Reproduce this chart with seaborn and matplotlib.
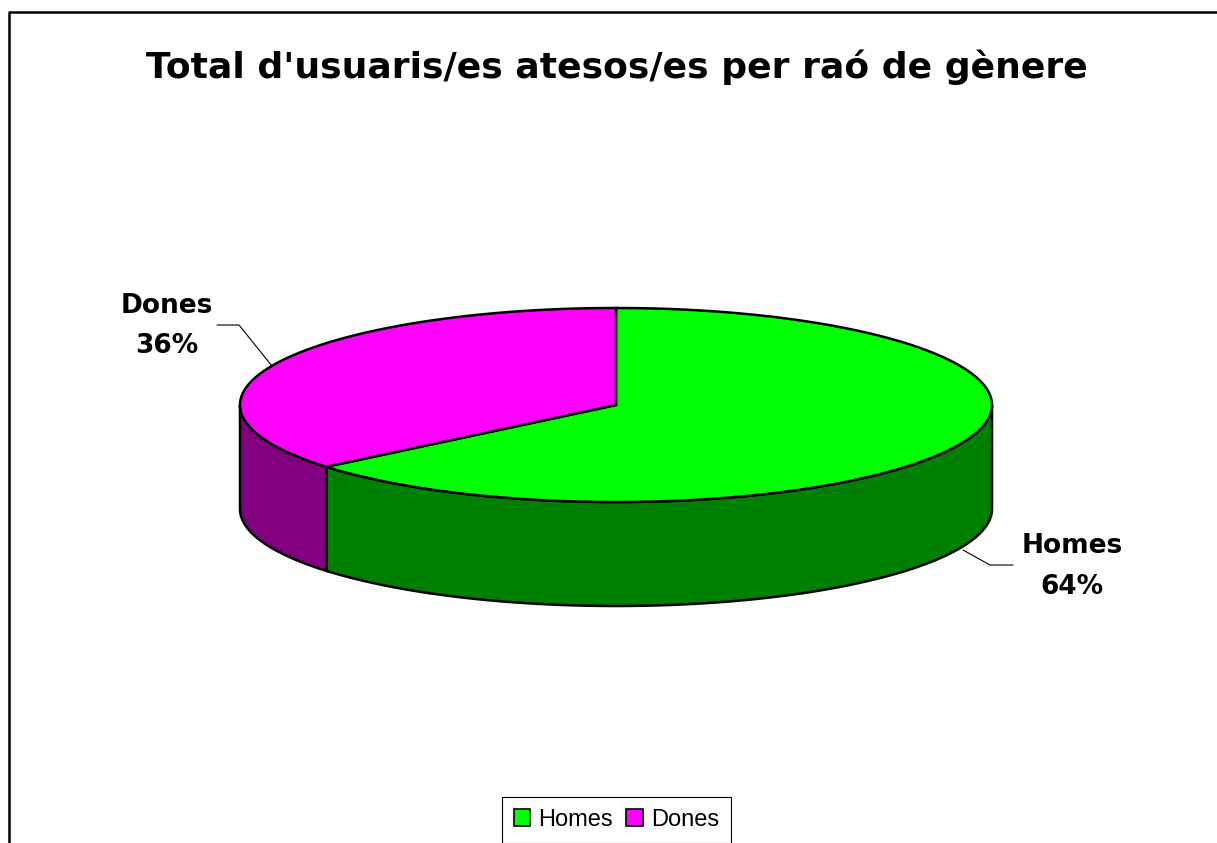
import numpy as np
import seaborn as sns
import matplotlib.pyplot as plt
from matplotlib.patches import Polygon, Patch

# Data
labels = ['Homes', 'Dones']
values = [64, 36]
top_colors = ['#00FF00', '#FF00FF']
side_colors = ['#008000', '#800080']
title = "Total d'usuaris/es atesos/es per raó de gènere"

sns.set_theme(style='white')
plt.rcParams['font.family'] = ['DejaVu Sans']
plt.rcParams['text.color'] = 'black'

fig = plt.figure(figsize=(12.17, 8.43), dpi=100)
ax = fig.add_axes([0, 0, 1, 1])
ax.set_xlim(0, 1217)
ax.set_ylim(843, 0)
ax.axis('off')

# geometry of the 3d pie (pixels)
cx, cy, a, b, depth = 616, 405, 376, 97, 104


def pt(theta, dy=0):
    return cx + a * np.sin(theta), cy - b * np.cos(theta) + dy


fracs = np.array(values) / sum(values)
bounds = np.concatenate([[0], np.cumsum(fracs)]) * 2 * np.pi

# side walls (front half only: pi/2 .. 3pi/2)
for i in range(len(values)):
    t1 = max(bounds[i], np.pi / 2)
    t2 = min(bounds[i + 1], 3 * np.pi / 2)
    if t2 <= t1:
        continue
    th = np.linspace(t1, t2, 200)
    xs, ys = pt(th)
    xb, yb = pt(th[::-1], depth)
    poly = np.column_stack([np.concatenate([xs, xb]), np.concatenate([ys, yb])])
    ax.add_patch(Polygon(poly, closed=True, facecolor=side_colors[i],
                         edgecolor='black', lw=1.8, zorder=2))

# top face
for i in range(len(values)):
    th = np.linspace(bounds[i], bounds[i + 1], 300)
    xs, ys = pt(th)
    poly = np.column_stack([np.concatenate([[cx], xs]), np.concatenate([[cy], ys])])
    ax.add_patch(Polygon(poly, closed=True, facecolor=top_colors[i],
                         edgecolor='black', lw=1.8, zorder=3))

# data labels with leader lines
lbl = dict(ha='center', va='center', fontsize=19, fontweight='bold', color='black')
ax.text(167, 306, labels[1], **lbl)
ax.text(167, 346, f'{values[1]}%', **lbl)
ax.plot([217, 239, 272], [325, 325, 366], color='black', lw=0.8)
ax.text(1072, 546, labels[0], **lbl)
ax.text(1072, 587, f'{values[0]}%', **lbl)
ax.plot([963, 990, 1013], [550, 565, 565], color='black', lw=0.8)

# title
ax.text(617, 67, title, ha='center', va='center', fontsize=26,
        fontweight='bold', color='black')

# chart frame (left and top edges visible)
ax.plot([8.5, 8.5, 1230], [860, 11.5, 11.5], color='black', lw=1.8, clip_on=False)

# legend
handles = [Patch(facecolor=c, edgecolor='black', lw=1.2) for c in top_colors]
leg = fig.legend(handles, labels, loc='upper left',
                 bbox_to_anchor=(502 / 1217, 1 - 797 / 843), ncol=2,
                 frameon=True, fancybox=False, framealpha=1, edgecolor='black',
                 prop={'family': 'Liberation Sans', 'size': 17},
                 handlelength=0.7, handleheight=0.7, handletextpad=0.35,
                 columnspacing=0.55, borderpad=0.5, borderaxespad=0)
leg.get_frame().set_linewidth(0.8)
for t in leg.get_texts():
    t.set_color('black')

fig.savefig('out.png', dpi=100)
